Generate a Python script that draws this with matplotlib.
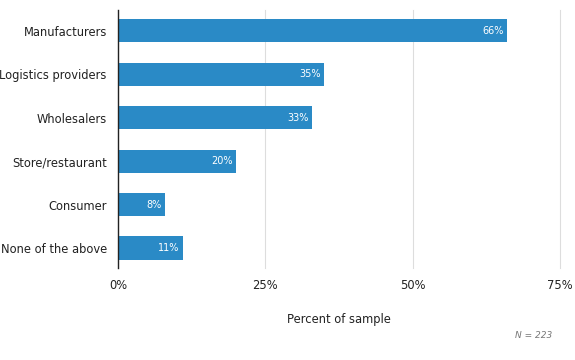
import matplotlib.pyplot as plt

categories = ["Manufacturers", "Logistics providers", "Wholesalers",
              "Store/restaurant", "Consumer", "None of the above"]
values = [66, 35, 33, 20, 8, 11]
xticks = [0, 25, 50, 75]

fig = plt.figure(figsize=(5.75, 3.6), dpi=100)
ax = fig.add_axes([0.205, 0.2556, 0.769, 0.717])

pos = list(range(len(categories)))[::-1]
ax.barh(pos, values, height=0.53, color='#2a8ac6', zorder=3)

for p, v in zip(pos, values):
    ax.text(v - 0.6, p, f"{v}%", ha='right', va='center', color='white', fontsize=7, zorder=4)

ax.set_yticks(pos)
ax.set_yticklabels(categories, fontsize=8.3, color='#222222')
ax.set_xticks(xticks)
ax.set_xticklabels([f"{t}%" for t in xticks], fontsize=8.3, color='#222222')
ax.set_xlim(0, 75)
ax.set_ylim(-0.46, 5.48)
ax.tick_params(axis='y', length=0, pad=8)
ax.tick_params(axis='x', length=0, pad=8)
ax.xaxis.grid(True, color='#dddddd', linewidth=0.8, zorder=0)
for gl in ax.get_xgridlines():
    gl.set_clip_on(False)

for s in ['top', 'right', 'bottom']:
    ax.spines[s].set_visible(False)
ax.spines['left'].set_color('#222222')
ax.spines['left'].set_linewidth(1)
ax.spines['left'].set_zorder(5)

ax.set_xlabel("Percent of sample", fontsize=8.3, color='#222222', labelpad=15)
fig.text(0.96, 0.067, "N = 223", ha='right', va='center', fontsize=6.5,
         style='italic', color='#777777')

fig.savefig("out.png", dpi=100)
